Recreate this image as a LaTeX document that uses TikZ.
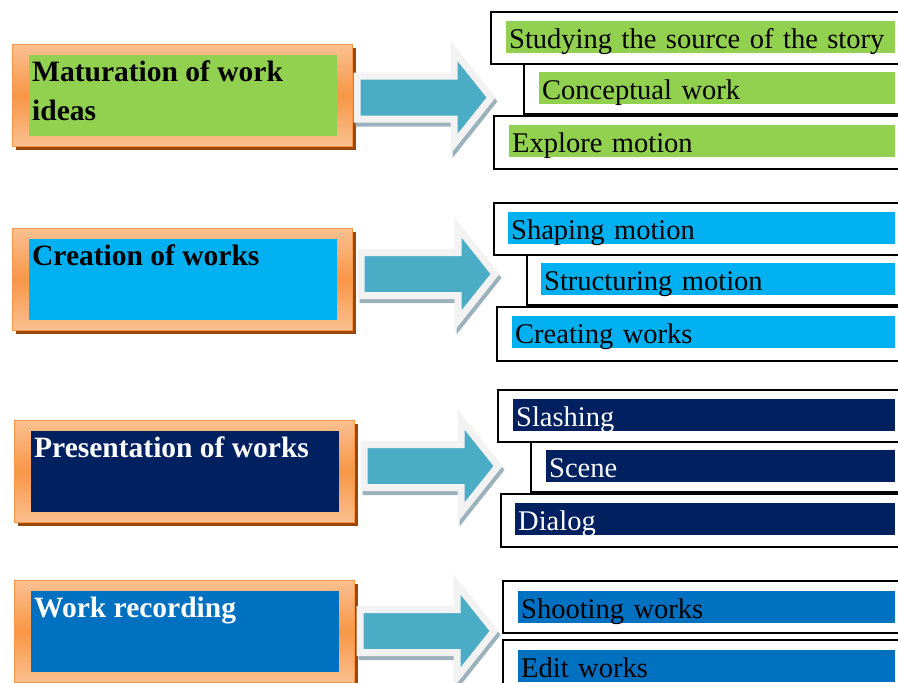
\documentclass[tikz,border=0pt]{standalone}
\usepackage{fontspec}
\setmainfont{Liberation Serif}
\usetikzlibrary{shapes.arrows}
\usetikzlibrary{positioning}
\definecolor{green0}{HTML}{92D050}
\definecolor{cyan0}{HTML}{00B0F0}
\definecolor{navy0}{HTML}{002060}
\definecolor{blue0}{HTML}{0070C0}
\definecolor{peach0}{HTML}{FAC090}
\definecolor{orange0}{HTML}{F79646}
\definecolor{brown0}{HTML}{984807}
\definecolor{arrowfill}{HTML}{4BACC6}
\definecolor{arrowline}{HTML}{F2F2F2}
\definecolor{arrowshade}{HTML}{9BB1BC}
\tikzset{
    frame/.style={
           rectangle,
           draw=orange0, line width=1pt,
           top color=peach0, bottom color=peach0, middle color=orange0,
           minimum width=340pt, minimum height=102pt,
           anchor=north west,
           preaction={fill=brown0, transform canvas={xshift=3pt, yshift=-3pt}},
           },
    inbox/.style={
           rectangle,
           minimum width=308pt, minimum height=81pt,
           },
    title/.style={
           anchor=north west, align=left,
           inner xsep=3pt, inner ysep=6pt,
           font=\fontsize{29.5}{39}\selectfont\bfseries,
           },
    bigarrow/.style={
           single arrow, anchor=tail,
           draw=arrowline, line width=7pt, fill=arrowfill,
           minimum height=134pt, inner xsep=0pt, inner ysep=18pt,
           single arrow head extend=25pt, single arrow tip angle=103,
           preaction={draw=arrowshade, fill=arrowshade, line width=7pt,
                      transform canvas={xshift=2pt, yshift=-4pt}},
           },
    box/.style={
           rectangle, anchor=north west,
           draw=black, line width=1.5pt, fill=white,
           },
    bar/.style={
           rectangle, anchor=north west, align=left,
           minimum height=32pt, inner xsep=3pt, inner ysep=0pt,
           text height=27pt, text depth=5pt,
           font=\fontsize{28.5}{34}\selectfont,
           },
}
\begin{document}
\begin{tikzpicture}[x=1pt, y=-1pt, every node/.style={font=\fontsize{29}{39}\selectfont}]
\clip (0,0) rectangle (898,683);
% left column
\node[frame] (mat) at (12,44) {};
\node[inbox, fill=green0, below right=11pt and 17pt of mat.north west,
      label={[title]north west:Maturation of work\\ideas}] (mat0) {};
\node[frame] (cre) at (12,228) {};
\node[inbox, fill=cyan0, below right=11pt and 17pt of cre.north west,
      label={[title]north west:Creation of works}] (cre0) {};
\node[frame] (pre) at (14,420) {};
\node[inbox, fill=navy0, below right=11pt and 17pt of pre.north west,
      label={[title, text=white]north west:Presentation of works}] (pre0) {};
\node[frame] (rec) at (14,580) {};
\node[inbox, fill=blue0, below right=11pt and 17pt of rec.north west,
      label={[title, text=white]north west:Work recording}] (rec0) {};
% arrows
\node[bigarrow] (a1) at (353.5,97.5) {};
\node[bigarrow] (a2) at (357.5,274) {};
\node[bigarrow] (a3) at (360.5,466) {};
\node[bigarrow] (a4) at (356.5,631) {};
% right column
\node[box, minimum width=420pt, minimum height=52pt] (mat1) at (490,11) {};
\node[box, minimum width=417pt, minimum height=53pt] (mat3) at (493,115) {};
\node[box, minimum width=387pt, minimum height=50pt] (mat2) at (523,63) {};
\node[bar, fill=green0, text width=383pt] (m1) at (506,21) {Studying the source of the story};
\node[bar, fill=green0, text width=350pt] (m2) at (539,72) {Conceptual work};
\node[bar, fill=green0, text width=380pt] (m3) at (509,125) {Explore motion};

\node[box, minimum width=417pt, minimum height=52pt] (cre1) at (493,202) {};
\node[box, minimum width=414pt, minimum height=54pt] (cre3) at (496,306) {};
\node[box, minimum width=384pt, minimum height=50pt] (cre2) at (526,254) {};
\node[bar, fill=cyan0, text width=381pt] (c1) at (508,212) {Shaping motion};
\node[bar, fill=cyan0, text width=348pt] (c2) at (541,263) {Structuring motion};
\node[bar, fill=cyan0, text width=377pt] (c3) at (512,316) {Creating works};

\node[box, minimum width=413pt, minimum height=52pt] (pre1) at (497,389) {};
\node[box, minimum width=410pt, minimum height=53pt] (pre3) at (500,493) {};
\node[box, minimum width=380pt, minimum height=50pt] (pre2) at (530,441) {};
\node[bar, fill=navy0, text=white, text width=376pt] (p1) at (513,399) {Slashing};
\node[bar, fill=navy0, text=white, text width=343pt] (p2) at (546,450) {Scene};
\node[bar, fill=navy0, text=white, text width=374pt] (p3) at (515,503) {Dialog};

\node[box, minimum width=408pt, minimum height=52pt] (rec1) at (502,580) {};
\node[box, minimum width=408pt, minimum height=60pt] (rec2) at (502,639) {};
\node[bar, fill=blue0, text width=371pt] (r1) at (518,591) {Shooting works};
\node[bar, fill=blue0, text width=371pt] (r2) at (518,650) {Edit works};
\end{tikzpicture}
\end{document}
